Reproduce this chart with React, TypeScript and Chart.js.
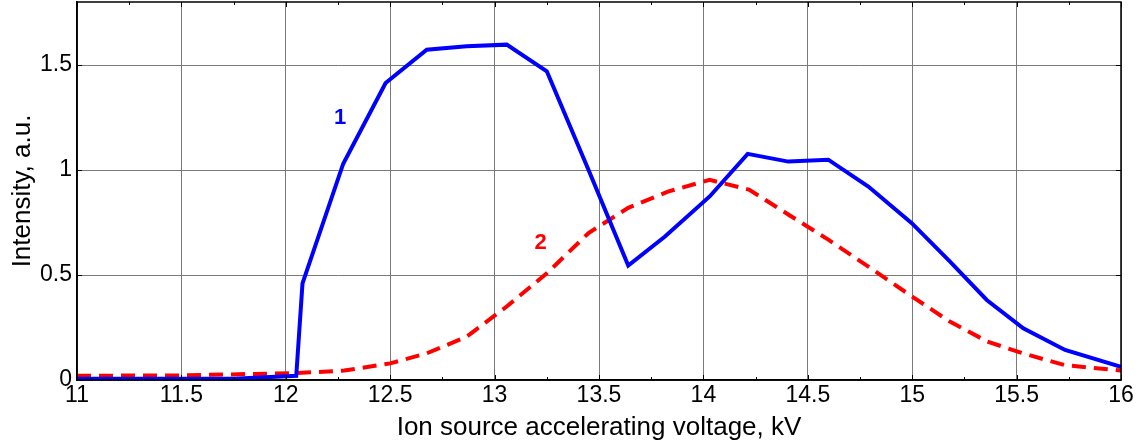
import React, { useEffect, useRef } from "react";
import { Chart, registerables } from "chart.js";

Chart.register(...registerables);

const blueX = [11, 11.75, 12.05, 12.08, 12.275, 12.478, 12.675, 12.866, 13.058, 13.25, 13.45, 13.64, 13.816, 14.03, 14.212, 14.407, 14.598, 14.79, 14.998, 15.18, 15.357, 15.532, 15.732, 16.0];
const blueY = [0.006, 0.006, 0.02, 0.46, 1.03, 1.414, 1.573, 1.589, 1.597, 1.47, 1.0, 0.545, 0.683, 0.874, 1.077, 1.04, 1.049, 0.921, 0.747, 0.565, 0.381, 0.246, 0.143, 0.063];

const redX = [11, 11.5, 12.05, 12.28, 12.5, 12.675, 12.866, 13.058, 13.25, 13.45, 13.64, 13.83, 14.03, 14.22, 14.41, 14.6, 14.79, 15.0, 15.18, 15.36, 15.53, 15.73, 16.0];
const redY = [0.02, 0.022, 0.033, 0.045, 0.079, 0.127, 0.206, 0.35, 0.508, 0.7, 0.82, 0.897, 0.953, 0.906, 0.786, 0.667, 0.54, 0.397, 0.278, 0.183, 0.127, 0.071, 0.045];

const xTicks = [11, 11.5, 12, 12.5, 13, 13.5, 14, 14.5, 15, 15.5, 16];
const yTicks = [0, 0.5, 1, 1.5];

const curveLabels = [
  { text: "1", x: 12.26, y: 1.25, color: "#0000ff" },
  { text: "2", x: 13.22, y: 0.655, color: "#ff0000" },
];

const FONT = "'Liberation Sans', Arial, sans-serif";

const fmt = (v: any) => String(Number(v));

const framePlugin = {
  id: "frame",
  afterDatasetsDraw(chart: any) {
    const { ctx, chartArea } = chart;
    const xs = chart.scales.x;
    const ys = chart.scales.y;
    const { left, right, top, bottom } = chartArea;
    ctx.save();
    ctx.font = `bold 22px ${FONT}`;
    ctx.textAlign = "center";
    ctx.textBaseline = "middle";
    for (const l of curveLabels) {
      ctx.fillStyle = l.color;
      ctx.fillText(l.text, xs.getPixelForValue(l.x), ys.getPixelForValue(l.y));
    }
    ctx.strokeStyle = "#000";
    ctx.lineWidth = 1;
    ctx.beginPath();
    for (let v = 11; v <= 16.0001; v += 0.25) {
      const px = Math.round(xs.getPixelForValue(v)) + 0.5;
      const major = Math.abs(v * 2 - Math.round(v * 2)) < 1e-6;
      const len = major ? 5 : 3;
      ctx.moveTo(px, top);
      ctx.lineTo(px, top + len);
      ctx.moveTo(px, bottom);
      ctx.lineTo(px, bottom - len);
    }
    for (const v of yTicks) {
      const py = Math.round(ys.getPixelForValue(v)) + 0.5;
      ctx.moveTo(left, py);
      ctx.lineTo(left + 5, py);
      ctx.moveTo(right, py);
      ctx.lineTo(right - 5, py);
    }
    ctx.stroke();
    ctx.lineWidth = 1.5;
    ctx.strokeRect(left, top, right - left, bottom - top);
    ctx.restore();
  },
};

export default function App() {
  const ref = useRef<HTMLCanvasElement | null>(null);
  useEffect(() => {
    if (!ref.current) return;
    const chart = new Chart(ref.current, {
      type: "line",
      data: {
        datasets: [
          {
            label: "1",
            data: blueX.map((x, i) => ({ x, y: blueY[i] })),
            borderColor: "#0000ff",
            borderWidth: 4,
            pointRadius: 0,
            tension: 0,
            fill: false,
          },
          {
            label: "2",
            data: redX.map((x, i) => ({ x, y: redY[i] })),
            borderColor: "#ff0000",
            borderWidth: 4,
            borderDash: [14, 8],
            pointRadius: 0,
            tension: 0,
            fill: false,
          },
        ],
      },
      options: {
        responsive: false,
        animation: false,
        layout: { padding: { top: 2, right: 19, bottom: 0, left: 0 } },
        plugins: {
          legend: { display: false },
          tooltip: { enabled: false },
        },
        scales: {
          x: {
            type: "linear",
            min: 11,
            max: 16,
            afterBuildTicks: (s: any) => {
              s.ticks = xTicks.map((v) => ({ value: v }));
            },
            afterFit: (s: any) => {
              s.height = 63;
              s.paddingLeft = 0;
              s.paddingRight = 0;
            },
            ticks: {
              color: "#000",
              font: { family: FONT, size: 23 },
              padding: 2,
              maxRotation: 0,
              autoSkip: false,
              callback: fmt,
            },
            grid: { color: "#7a7a7a", lineWidth: 1, drawTicks: false },
            border: { display: true, color: "#000", width: 1.5 },
            title: {
              display: true,
              text: "Ion source accelerating voltage, kV",
              color: "#000",
              font: { family: FONT, size: 26 },
              padding: { top: 7, bottom: 0 },
            },
          },
          y: {
            type: "linear",
            min: 0,
            max: 1.8,
            afterBuildTicks: (s: any) => {
              s.ticks = yTicks.map((v) => ({ value: v }));
            },
            afterFit: (s: any) => {
              s.width = 77;
              s.paddingTop = 0;
              s.paddingBottom = 0;
            },
            ticks: {
              color: "#000",
              font: { family: FONT, size: 23 },
              padding: 5,
              callback: fmt,
            },
            grid: { color: "#7a7a7a", lineWidth: 1, drawTicks: false },
            border: { display: true, color: "#000", width: 1.5 },
            title: {
              display: true,
              text: "Intensity, a.u.",
              color: "#000",
              font: { family: FONT, size: 26 },
              padding: { top: 7, bottom: 0 },
            },
          },
        },
      },
      plugins: [framePlugin],
    });
    return () => chart.destroy();
  }, []);
  return (
    <div style={{ position: "absolute", left: 0, top: 0, width: 1140, height: 443, background: "#fff" }}>
      <canvas ref={ref} width={1140} height={443} />
    </div>
  );
}
